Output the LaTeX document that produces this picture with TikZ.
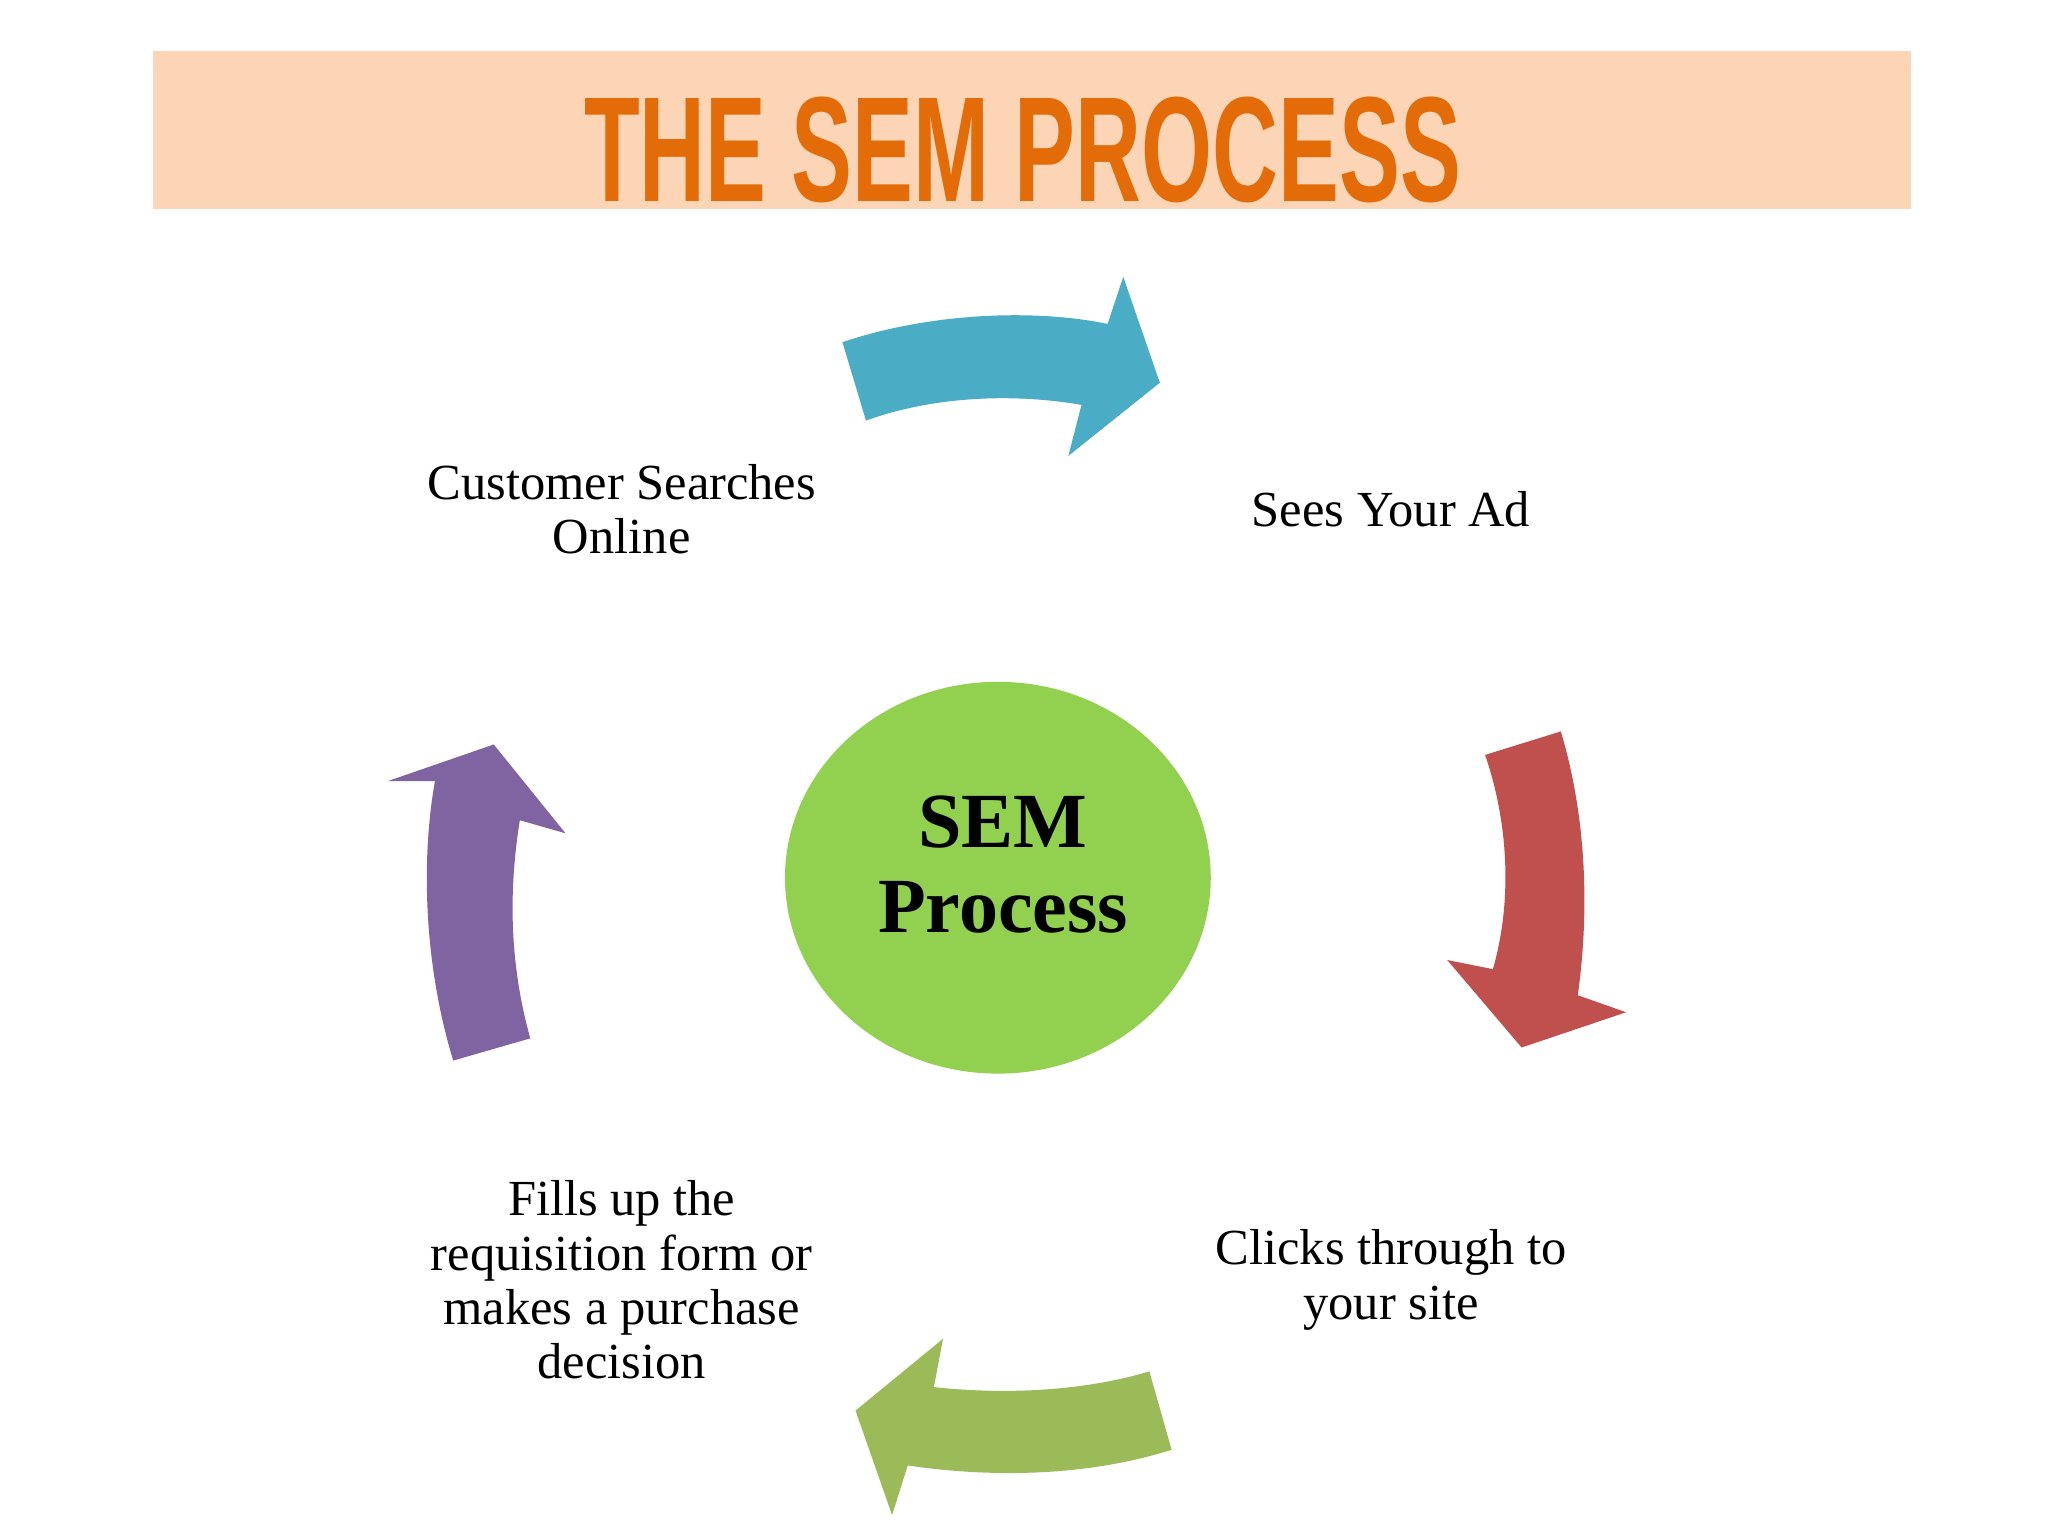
\documentclass[tikz,border=0pt]{standalone}
\usepackage{fontspec}
\setmainfont{Liberation Serif}
\newfontfamily\titlefont{Liberation Sans}
\definecolor{cblue}{HTML}{4BACC6}
\definecolor{cred}{HTML}{C0504D}
\definecolor{cgreen}{HTML}{9BBB59}
\definecolor{cpurple}{HTML}{8064A2}
\definecolor{cball}{HTML}{92D050}
\definecolor{cband}{HTML}{FBD5B5}
\definecolor{ctitle}{HTML}{E36C09}
\begin{document}
\begin{tikzpicture}[x=0.01cm,y=-0.01cm,
  lbl/.style={align=center,font=\fontsize{11pt}{11.8pt}\selectfont}]
\useasboundingbox (0,0) rectangle (1568,1176);
\fill[white] (0,0) rectangle (1568,1176);
\fill[cband] (117,39) rectangle (1463,160);
\node[text=ctitle,inner sep=0] (title) at (783,115) {\resizebox{6.71cm}{0.80cm}{\titlefont\bfseries THE SEM PROCESS}};
\fill[cblue] (645,262) .. controls (710,240) and (790,236) .. (848,248) -- (860,212) -- (888,293) -- (818,349) -- (828,310) .. controls (770,300) and (710,305) .. (663,322) -- cycle;
\fill[cred] (1137,578) .. controls (1155,630) and (1158,690) .. (1143,742) -- (1108,735) -- (1165,802) -- (1245,775) -- (1208,762) .. controls (1218,690) and (1213,620) .. (1195,560) -- cycle;
\fill[cgreen] (880,1050) .. controls (830,1065) and (770,1068) .. (715,1062) -- (722,1025) -- (655,1080) -- (683,1160) -- (695,1122) .. controls (770,1133) and (840,1128) .. (897,1110) -- cycle;
\fill[cpurple] (347,812) .. controls (325,740) and (322,660) .. (333,598) -- (297,598) -- (378,570) -- (433,638) -- (398,628) .. controls (388,690) and (392,745) .. (406,795) -- cycle;
\fill[cball] (764,672) ellipse [x radius=163, y radius=150];
\node[align=center,font=\fontsize{17pt}{18.6pt}\selectfont\bfseries] (c) at (768,662) {SEM\\Process};
\node[lbl] (s1) at (476,390) {Customer Searches\\Online};
\node[lbl] (s2) at (1065,390) {Sees Your Ad};
\node[lbl] (s3) at (1065,980) {Clicks through to\\your site};
\node[lbl] (s4) at (476,980) {Fills up the\\requisition form or\\makes a purchase\\decision};
\end{tikzpicture}
\end{document}
